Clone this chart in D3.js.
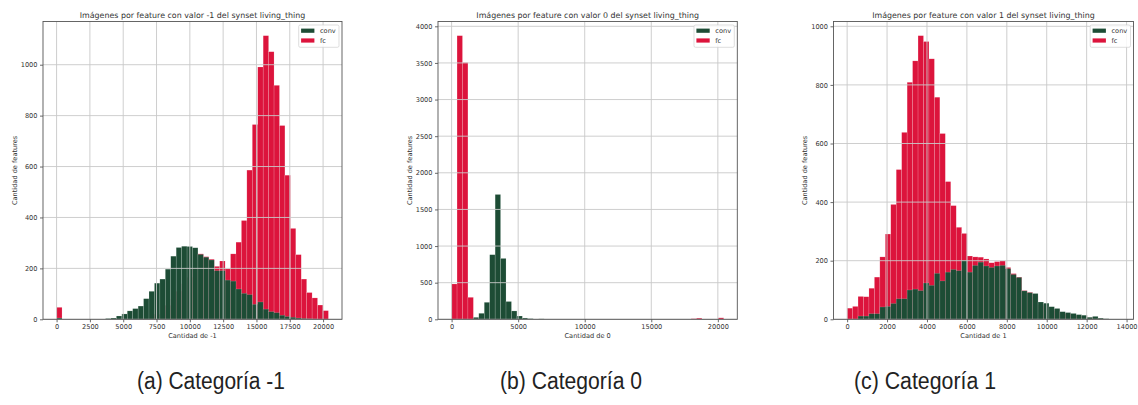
<!DOCTYPE html>
<html>
<head>
<meta charset="utf-8">
<script src="https://cdn.jsdelivr.net/npm/d3@7"></script>
<style>
  body { margin: 0; background: #fff; }
  svg { display: block; }
  text { font-family: 'DejaVu Sans', sans-serif; }
</style>
</head>
<body>
<div id="chart"></div>
<script>
// histogram counts, 50 equal bins from 0 to binMax (same bins for conv and fc)
const nBins = 50;
const binMax1 = 20400;
const binMax2 = 20440;
const binMax3 = 13664;

const conv1 = [5, 0, 0, 0, 0, 0, 0, 0, 0, 3,
  5, 13, 21, 33, 42, 52, 81, 110, 142, 158,
  197, 248, 282, 287, 286, 281, 255, 244, 233, 191,
  191, 154, 150, 119, 102, 97, 59, 68, 40, 30,
  26, 16, 11, 8, 5, 3, 2, 1, 0, 0];
const fc1 = [47, 0, 0, 0, 0, 0, 0, 0, 0, 0,
  0, 0, 0, 0, 0, 2, 5, 10, 20, 35,
  55, 80, 110, 140, 165, 200, 257, 246, 236, 208,
  229, 198, 257, 303, 388, 586, 765, 991, 1114, 1051,
  919, 761, 566, 357, 254, 158, 105, 84, 56, 34];

const conv2 = [0, 0, 0, 0, 27, 82, 232, 882, 1704, 831,
  243, 114, 45, 18, 9, 4, 6, 1, 0, 0,
  0, 0, 0, 0, 0, 0, 0, 0, 0, 0,
  0, 0, 0, 0, 0, 0, 0, 0, 0, 0,
  0, 0, 0, 0, 0, 0, 3, 3, 0, 0];
const fc2 = [482, 3872, 3504, 300, 10, 0, 0, 0, 0, 0,
  0, 0, 0, 0, 0, 0, 0, 0, 0, 0,
  0, 0, 0, 0, 0, 0, 0, 0, 0, 0,
  0, 0, 0, 0, 0, 0, 0, 0, 0, 0,
  0, 0, 0, 0, 8, 16, 2, 2, 0, 20];

const conv3 = [0, 0, 11, 11, 19, 19, 42, 44, 54, 70,
  70, 100, 103, 98, 124, 116, 157, 131, 161, 170,
  166, 201, 161, 184, 195, 182, 177, 182, 184, 173,
  153, 143, 97, 91, 88, 59, 55, 43, 37, 26,
  23, 20, 16, 14, 7, 10, 4, 2, 1, 1];
const fc3 = [38, 44, 78, 77, 106, 144, 213, 291, 392, 511,
  638, 809, 882, 968, 948, 889, 758, 634, 470, 388,
  314, 293, 216, 213, 212, 206, 193, 197, 199, 177,
  156, 144, 98, 92, 80, 50, 45, 35, 30, 20,
  18, 15, 12, 10, 5, 6, 2, 1, 0, 0];

const titles = [
  'Imágenes por feature con valor -1 del synset living_thing',
  'Imágenes por feature con valor 0 del synset living_thing',
  'Imágenes por feature con valor 1 del synset living_thing'
];
const xLabels = ['Cantidad de -1', 'Cantidad de 0', 'Cantidad de 1'];
const yLabel = 'Cantidad de features';
const captions = ['(a) Categoría -1', '(b) Categoría 0', '(c) Categoría 1'];
const seriesNames = ['conv', 'fc'];

const xTicks1 = [0, 2500, 5000, 7500, 10000, 12500, 15000, 17500, 20000];
const xTicks2 = [0, 5000, 10000, 15000, 20000];
const xTicks3 = [0, 2000, 4000, 6000, 8000, 10000, 12000, 14000];
const yTicks1 = [0, 200, 400, 600, 800, 1000];
const yTicks2 = [0, 500, 1000, 1500, 2000, 2500, 3000, 3500, 4000];
const yTicks3 = [0, 200, 400, 600, 800, 1000];

const colors = { conv: '#1d4c35', fc: '#dc143c' };

const width = 1138, height = 405;
const svg = d3.select('#chart').append('svg')
    .attr('width', width)
    .attr('height', height);

svg.append('rect').attr('width', width).attr('height', height).attr('fill', '#fff');

const panels = [
    { left: 43, right: 342, conv: conv1, fc: fc1, binMax: binMax1, xTicks: xTicks1, yTicks: yTicks1, caption: 211 },
    { left: 438, right: 737.3, conv: conv2, fc: fc2, binMax: binMax2, xTicks: xTicks2, yTicks: yTicks2, caption: 571 },
    { left: 833.5, right: 1133.5, conv: conv3, fc: fc3, binMax: binMax3, xTicks: xTicks3, yTicks: yTicks3, caption: 925 }
];
const plotTop = 21.5, plotBottom = 319.3;

panels.forEach((p, i) => {
    const edges = d3.range(nBins + 1).map(k => k * p.binMax / nBins);
    const yMax = 1.05 * d3.max(p.conv.concat(p.fc));

    const x = d3.scaleLinear()
        .domain([-0.05 * p.binMax, 1.05 * p.binMax])
        .range([p.left, p.right]);
    const y = d3.scaleLinear()
        .domain([0, yMax])
        .range([plotBottom, plotTop]);

    const g = svg.append('g');

    // fc first, conv drawn over it
    ['fc', 'conv'].forEach(name => {
        g.append('g').selectAll('rect')
            .data(p[name].map((v, k) => ({ v, k })).filter(d => d.v > 0))
            .enter()
            .append('rect')
            .attr('x', d => x(edges[d.k]))
            .attr('width', d => x(edges[d.k + 1]) - x(edges[d.k]))
            .attr('y', d => y(d.v))
            .attr('height', d => y(0) - y(d.v))
            .attr('fill', colors[name])
            .attr('stroke', '#fff')
            .attr('stroke-opacity', 0.3)
            .attr('stroke-width', 0.5);
    });

    // grid over the bars, like matplotlib's default
    g.selectAll('.vgrid')
        .data(p.xTicks)
        .enter()
        .append('line')
        .attr('x1', d => x(d)).attr('x2', d => x(d))
        .attr('y1', plotTop).attr('y2', plotBottom)
        .style('stroke', '#c8c8c8')
        .style('stroke-width', 0.9);
    g.selectAll('.hgrid')
        .data(p.yTicks)
        .enter()
        .append('line')
        .attr('x1', p.left).attr('x2', p.right)
        .attr('y1', d => y(d)).attr('y2', d => y(d))
        .style('stroke', '#c8c8c8')
        .style('stroke-width', 0.9);

    const xAxis = d3.axisBottom(x).tickValues(p.xTicks).tickFormat(d3.format('d')).tickSizeInner(3).tickSizeOuter(0).tickPadding(2);
    const yAxis = d3.axisLeft(y).tickValues(p.yTicks).tickFormat(d3.format('d')).tickSizeInner(3).tickSizeOuter(0).tickPadding(2.5);

    const gx = g.append('g')
        .attr('transform', `translate(0,${plotBottom})`)
        .call(xAxis);
    const gy = g.append('g')
        .attr('transform', `translate(${p.left},0)`)
        .call(yAxis);
    [gx, gy].forEach(a => {
        a.select('.domain').remove();
        a.selectAll('line').style('stroke', '#444').style('stroke-width', 0.8);
        a.selectAll('text')
            .style('font-family', "'DejaVu Sans', sans-serif")
            .style('font-size', '6.6px')
            .style('fill', '#333');
    });

    g.append('rect')
        .attr('x', p.left).attr('y', plotTop)
        .attr('width', p.right - p.left).attr('height', plotBottom - plotTop)
        .attr('fill', 'none')
        .attr('stroke', '#555')
        .attr('stroke-width', 0.9);

    g.append('text')
        .attr('x', (p.left + p.right) / 2)
        .attr('y', plotTop - 4)
        .attr('text-anchor', 'middle')
        .style('font-size', '7.9px')
        .style('fill', '#333')
        .text(titles[i]);

    g.append('text')
        .attr('x', (p.left + p.right) / 2)
        .attr('y', 338)
        .attr('text-anchor', 'middle')
        .style('font-size', '6.6px')
        .style('fill', '#333')
        .text(xLabels[i]);

    g.append('text')
        .attr('transform', 'rotate(-90)')
        .attr('x', -(plotTop + plotBottom) / 2)
        .attr('y', p.left - 26.5)
        .attr('text-anchor', 'middle')
        .style('font-size', '6.6px')
        .style('fill', '#333')
        .text(yLabel);

    // legend
    const legend = g.append('g')
        .attr('transform', `translate(${p.right - 43.3},${plotTop + 3.5})`);
    legend.append('rect')
        .attr('width', 40.3).attr('height', 22.3)
        .attr('rx', 1.5)
        .attr('fill', '#fff').attr('fill-opacity', 0.85)
        .attr('stroke', '#d0d0d0').attr('stroke-width', 0.7);
    seriesNames.forEach((name, j) => {
        legend.append('rect')
            .attr('x', 2.4).attr('y', 3.6 + j * 9.8)
            .attr('width', 13.3).attr('height', 4.2)
            .attr('fill', colors[name]);
        legend.append('text')
            .attr('x', 21.3).attr('y', 8.1 + j * 9.8)
            .style('font-size', '6.6px')
            .style('fill', '#333')
            .text(name);
    });

    // subfigure caption: narrow sans, squeezed to the reference width
    svg.append('text')
        .attr('x', p.caption)
        .attr('y', 389)
        .attr('text-anchor', 'middle')
        .attr('textLength', i === 0 ? 148 : 142)
        .attr('lengthAdjust', 'spacingAndGlyphs')
        .style('font-family', "'Liberation Sans', sans-serif")
        .style('font-size', '23px')
        .style('fill', '#222')
        .text(captions[i]);
});
</script>
</body>
</html>
